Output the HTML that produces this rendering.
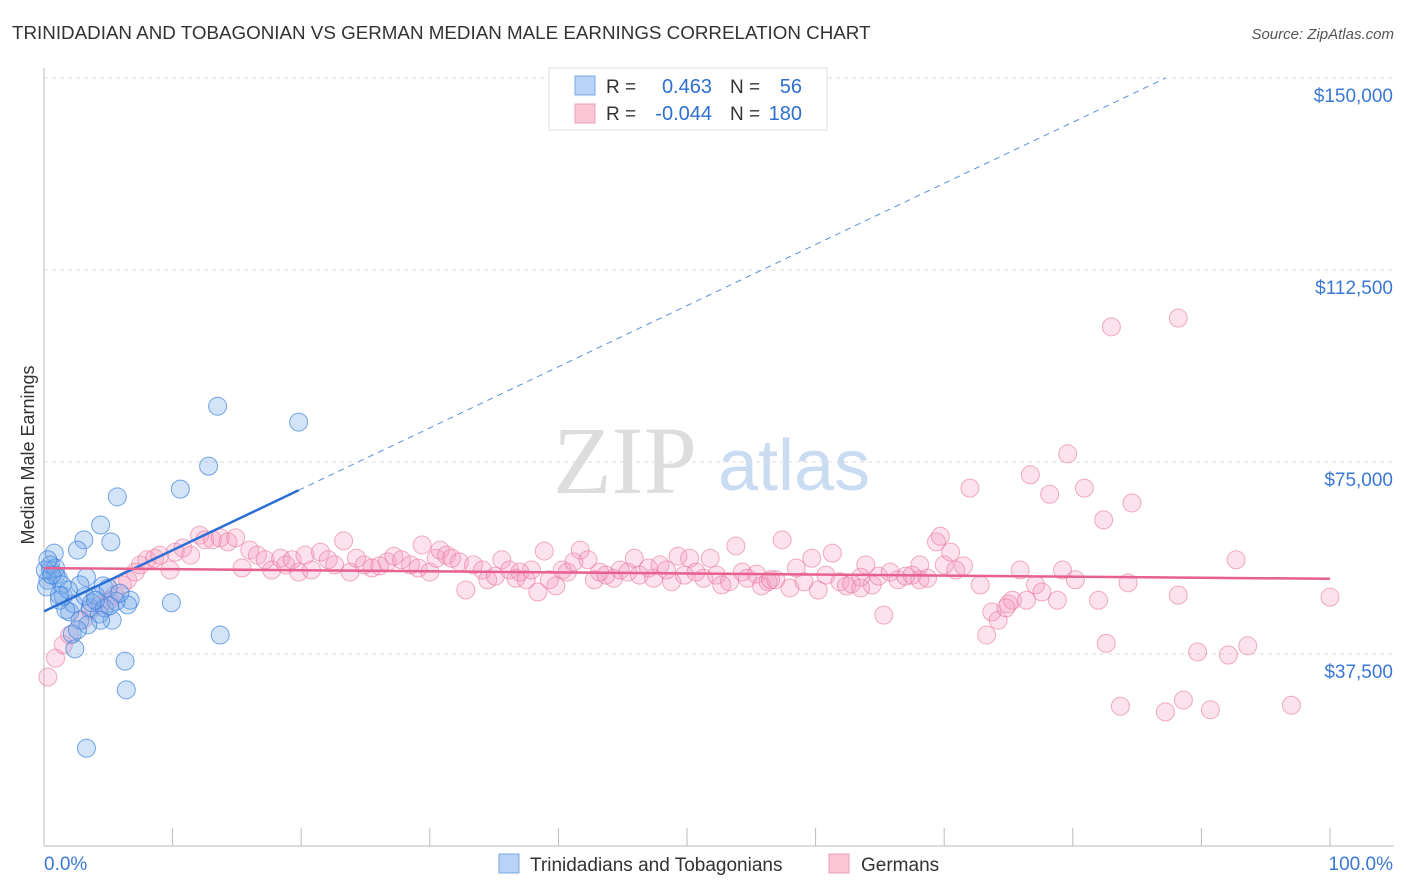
<!DOCTYPE html>
<html><head><meta charset="utf-8"><style>
body{margin:0;background:#fff;font-family:"Liberation Sans",sans-serif;}
svg{display:block}
</style></head><body>
<svg id="chart" width="1406" height="892" xmlns="http://www.w3.org/2000/svg">
<text x="12" y="39" font-size="18.8" fill="#333">TRINIDADIAN AND TOBAGONIAN VS GERMAN MEDIAN MALE EARNINGS CORRELATION CHART</text>
<text x="1394" y="39" font-size="15" fill="#555" font-style="italic" text-anchor="end">Source: ZipAtlas.com</text>
<text x="34" y="455" font-size="18" fill="#333" transform="rotate(-90 34 455)" text-anchor="middle">Median Male Earnings</text>
<g>
<text x="553" y="493" font-size="96" font-family="Liberation Serif,serif" fill="#ddd">ZIP</text>
<text x="718" y="490" font-size="72" fill="#c9dcf2">atlas</text>
</g>
<g id="grid"></g>
<g id="axes"></g>
<g id="pink"></g>
<g id="blue"></g>
<g id="lines"></g>
<g>
<rect x="549" y="68" width="278" height="62" fill="#fff" stroke="#ddd"/>
<rect x="575" y="76" width="20" height="19" fill="#b8d3f5" stroke="#7aaae6"/>
<rect x="575" y="104" width="20" height="19" fill="#fcc6d6" stroke="#eaa0b8"/>
<text x="606" y="93" font-size="19" fill="#333">R =</text>
<text x="712" y="93" font-size="20" fill="#2f6fd0" text-anchor="end">0.463</text>
<text x="730" y="93" font-size="19" fill="#333">N =</text>
<text x="802" y="93" font-size="20" fill="#2f6fd0" text-anchor="end">56</text>
<text x="606" y="120" font-size="19" fill="#333">R =</text>
<text x="712" y="120" font-size="20" fill="#2f6fd0" text-anchor="end">-0.044</text>
<text x="730" y="120" font-size="19" fill="#333">N =</text>
<text x="802" y="120" font-size="20" fill="#2f6fd0" text-anchor="end">180</text>
</g>
<g>
<rect x="499" y="854" width="20" height="19" fill="#b8d3f5" stroke="#7aaae6"/>
<text x="530" y="871" font-size="19" fill="#333">Trinidadians and Tobagonians</text>
<rect x="829" y="854" width="20" height="19" fill="#fcc6d6" stroke="#eaa0b8"/>
<text x="861" y="871" font-size="19" fill="#333">Germans</text>
</g>
</svg>
<script>
const yTicks=[37500,75000,112500,150000];
const yTickLabels=["$37,500","$75,000","$112,500","$150,000"];
const blueX=[13.5,19.8,12.8,10.6,5.7,4.4,3.1,5.2,2.6,0.8,0.5,0.9,0.3,1.1,1.4,3.3,0.2,4.6,6.7,9.9,2.0,3.6,4.3,5.3,6.5,2.8,4.0,5.0,1.2,2.3,1.7,13.7,2.2,2.4,6.3,6.4,3.3,0.5,0.1,0.9,1.5,3.2,3.7,4.7,5.6,2.8,1.9,4.4,3.4,2.6,1.2,0.6,0.3,5.9,5.1,4.0];
const blueY=[85.9,82.8,74.2,69.7,68.2,62.7,59.8,59.4,57.8,57.2,53.9,52.9,51.9,52.3,51.0,52.5,50.6,50.8,48.0,47.5,45.7,46.5,45.3,44.1,47.1,44.1,49.0,50.4,48.0,47.3,46.1,41.2,41.4,38.5,36.1,30.5,19.1,54.9,53.9,54.3,48.8,48.8,47.5,46.5,47.8,51.0,50.0,44.1,43.2,42.2,49.0,52.9,55.9,49.4,46.9,48.0];
const pinkX=[0.3,0.9,1.5,2.0,3.0,3.6,4.4,5.1,5.5,6.1,6.5,7.1,7.5,8.0,8.6,9.0,9.8,10.2,10.8,11.4,12.1,12.5,13.1,13.7,14.3,14.9,15.4,16.0,16.6,17.2,17.7,18.4,18.8,19.3,19.8,20.3,20.8,21.5,22.1,22.6,23.3,23.8,24.3,24.9,25.5,26.1,26.7,27.2,27.8,28.5,29.1,29.4,30.0,30.5,30.8,31.3,31.7,32.3,32.8,33.4,34.1,34.5,35.1,35.6,36.2,36.7,37.0,37.5,37.9,38.4,38.9,39.3,39.8,40.3,40.7,41.2,41.7,42.3,42.8,43.2,43.7,44.3,44.8,45.4,45.9,46.3,47.0,47.4,47.9,48.4,48.8,49.3,49.8,50.2,50.7,51.3,51.8,52.3,52.7,53.3,53.8,54.3,54.7,55.4,55.8,56.3,56.9,57.4,58.0,58.5,59.1,59.7,60.2,60.8,61.3,61.9,62.4,62.8,63.5,63.9,64.4,64.9,65.3,65.8,66.4,67.0,67.5,68.1,68.7,69.4,69.7,70.0,70.5,70.9,71.5,72.0,72.8,73.3,73.7,74.2,75.0,75.3,75.9,76.4,76.7,77.1,77.6,78.2,78.8,79.2,79.6,80.2,80.9,82.0,82.4,82.6,83.0,83.7,84.3,84.6,87.2,88.2,88.2,88.6,89.7,90.7,92.1,92.7,93.6,97.0,100.0,74.8,68.1,63.5,56.5];
const pinkY=[33.0,36.7,39.3,41.2,44.1,46.1,47.1,48.0,49.0,51.0,52.0,53.5,54.9,55.9,56.2,56.8,53.9,57.4,58.2,56.8,60.7,59.8,59.8,60.2,59.4,60.2,54.3,57.8,56.8,55.9,53.9,56.2,54.9,55.9,53.5,56.8,53.9,57.4,55.9,54.9,59.6,53.5,56.2,54.9,54.3,54.7,55.5,56.6,55.9,54.9,54.3,58.8,53.5,56.2,57.8,56.8,56.2,55.5,50.0,54.9,53.9,52.0,52.7,55.9,53.9,52.3,53.5,52.0,53.9,49.6,57.6,52.0,50.8,53.9,53.5,55.5,57.8,55.9,52.0,53.5,52.9,52.3,53.9,53.5,56.2,52.9,54.3,52.3,54.9,53.9,51.6,56.6,52.9,56.2,53.5,52.3,56.2,52.9,51.0,51.6,58.6,53.5,52.3,53.1,50.8,51.6,52.0,59.8,50.4,54.3,51.6,56.2,50.0,52.9,57.2,51.6,50.8,51.2,50.4,54.9,51.0,52.7,45.1,53.5,52.0,52.7,52.9,52.0,52.3,59.4,60.5,54.9,57.4,53.9,54.7,69.9,51.0,41.2,45.7,44.1,47.3,48.0,53.9,48.0,72.5,51.0,49.6,68.7,48.0,53.9,76.6,52.0,69.9,48.0,63.7,39.6,101.4,27.3,51.4,67.0,26.2,103.1,49.0,28.5,37.9,26.6,37.3,55.9,39.1,27.5,48.6,46.5,54.9,52.5,52.0];

const NS="http://www.w3.org/2000/svg";
const X0=44,X1=1330,Y0=846,PX_PER=192/37500;
const sx=p=>X0+(X1-X0)*p/100;
const sy=v=>Y0-v*PX_PER;
function mk(tag,attrs,parent){const e=document.createElementNS(NS,tag);for(const k in attrs)e.setAttribute(k,attrs[k]);document.getElementById(parent).appendChild(e);return e;}

yTicks.forEach((t,i)=>{
  const g=mk('line',{x1:X0,x2:1394,y1:sy(t),y2:sy(t),stroke:'#ddd','stroke-dasharray':'4,4'},'grid');
  
  
  const l=mk('text',{x:1393,y:sy(t)+24,'font-size':19,fill:'#3a78d4','text-anchor':'end'},'grid');
  l.textContent=yTickLabels[i];
  
  
});
const ax=mk('line',{x1:X0,x2:1394,y1:Y0,y2:Y0,stroke:'#bbb'},'axes');


const ay=mk('line',{x1:X0,x2:X0,y1:68,y2:Y0,stroke:'#bbb'},'axes');


for(let i=0;i<=10;i++){
  const t=mk('line',{x1:sx(i*10),x2:sx(i*10),y1:828,y2:Y0,stroke:'#bbb'},'axes');
  
  
}
const xl0=mk('text',{x:44,y:870,'font-size':19,fill:'#3a78d4'},'axes');xl0.textContent='0.0%';


const xl1=mk('text',{x:1393,y:870,'font-size':19,fill:'#3a78d4','text-anchor':'end'},'axes');xl1.textContent='100.0%';



pinkX.forEach((x,i)=>{
  const c=mk('circle',{cx:sx(x),cy:sy(pinkY[i]*1000),r:9,fill:'rgba(246,150,185,0.28)',stroke:'rgba(232,120,160,0.6)','stroke-width':1},'pink');
  
  
});
blueX.forEach((x,i)=>{
  const c=mk('circle',{cx:sx(x),cy:sy(blueY[i]*1000),r:9,fill:'rgba(120,170,235,0.33)',stroke:'rgba(60,130,220,0.7)','stroke-width':1},'blue');
  
  
});
function fit(xs,ys){const n=xs.length;let mx=0,my=0;for(let i=0;i<n;i++){mx+=xs[i];my+=ys[i];}mx/=n;my/=n;let sxy=0,sxx=0;for(let i=0;i<n;i++){sxy+=(xs[i]-mx)*(ys[i]-my);sxx+=(xs[i]-mx)**2;}const b=sxy/sxx;return{b,a:my-b*mx};}
const fb=fit(blueX,blueY),fp=fit(pinkX,pinkY);
const bmax=Math.max(...blueX);
const l1=mk('line',{x1:sx(0),y1:sy(fb.a*1000),x2:sx(bmax),y2:sy((fb.a+fb.b*bmax)*1000),stroke:'#2b6fd6','stroke-width':2.5},'lines');


const xTop=(150-fb.a)/fb.b;
const xe=Math.min(100,xTop);
const l2=mk('line',{x1:sx(bmax),y1:sy((fb.a+fb.b*bmax)*1000),x2:sx(xe),y2:sy((fb.a+fb.b*xe)*1000),stroke:'#5a90dc','stroke-width':1,'stroke-dasharray':'6,5'},'lines');


const l3=mk('line',{x1:sx(0),y1:sy(fp.a*1000),x2:sx(100),y2:sy((fp.a+fp.b*100)*1000),stroke:'#e8608f','stroke-width':2.5},'lines');


</script>
</body></html>
